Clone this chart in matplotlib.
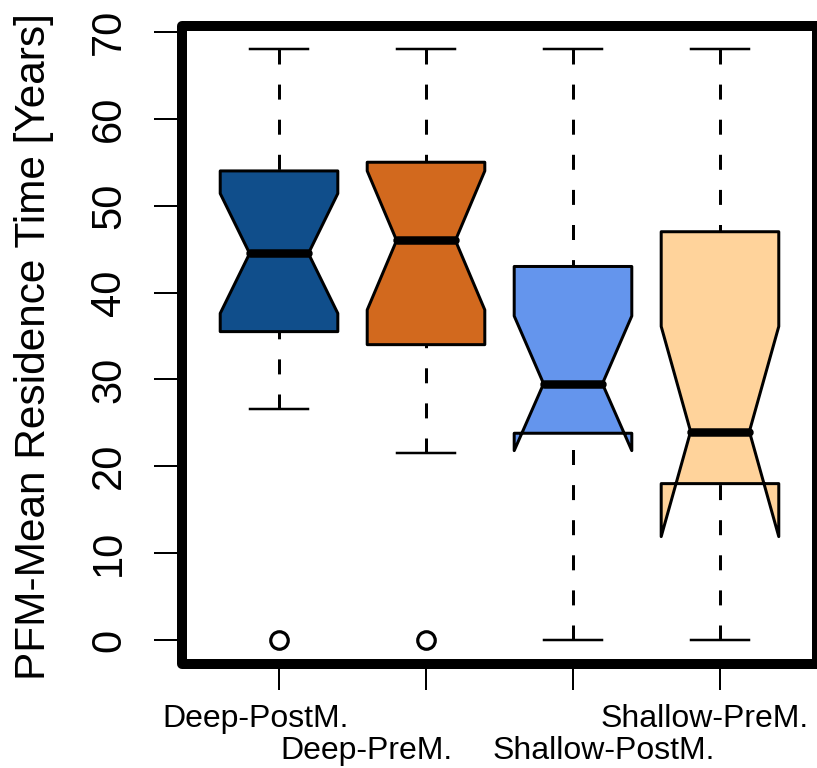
import matplotlib
matplotlib.use("Agg")
import matplotlib.pyplot as plt
import matplotlib.transforms as mtransforms
from matplotlib.patches import Rectangle

plt.rcParams['font.family'] = ['Liberation Sans', 'DejaVu Sans']

# ---- data -------------------------------------------------------------
groups = ["Deep-PostM.", "Deep-PreM.", "Shallow-PostM.", "Shallow-PreM."]
whisker_low = [26.6, 21.5, 0.0, 0.0]
q1 = [35.5, 34.0, 23.8, 18.0]
median = [44.5, 46.0, 29.5, 24.0]
q3 = [54.0, 55.0, 43.0, 47.0]
whisker_high = [68.0, 68.0, 68.0, 68.0]
notch_low = [37.6, 38.0, 21.8, 11.9]
notch_high = [51.4, 54.0, 37.3, 36.1]
outliers = [[0.0], [0.0], [], []]
colors = ["#104E8B", "#D2691E", "#6495ED", "#FFD39B"]
yticks = [0, 10, 20, 30, 40, 50, 60, 70]

# ---- layout -------------------------------------------------------------
W, H, DPI = 817, 768, 100
fig = plt.figure(figsize=(W / DPI, H / DPI), dpi=DPI)
ax = fig.add_axes([182 / W, 1 - 663.6 / H, 635 / W, (663.6 - 25.7) / H])
px = 72.0 / DPI  # points per pixel

stats = []
for i, g in enumerate(groups):
    stats.append(dict(label=g, whislo=whisker_low[i], q1=q1[i], med=median[i],
                      q3=q3[i], whishi=whisker_high[i], cilo=notch_low[i],
                      cihi=notch_high[i], fliers=outliers[i]))

positions = list(range(1, len(groups) + 1))
art = ax.bxp(stats, positions=positions, widths=0.8, shownotches=True,
             patch_artist=True, showfliers=True,
             boxprops=dict(linewidth=3 * px, edgecolor="black", joinstyle="round"),
             medianprops=dict(color="black", linewidth=8.5 * px,
                              solid_capstyle="round"),
             whiskerprops=dict(color="black", linewidth=3 * px,
                               linestyle=(0, (5, 6.7))),
             capprops=dict(color="black", linewidth=2.5 * px),
             flierprops=dict(marker="o", markersize=17.5 * px,
                             markerfacecolor="none", markeredgecolor="black",
                             markeredgewidth=3.2 * px))
for patch, c in zip(art["boxes"], colors):
    patch.set_facecolor(c)
# dash pattern starts at the whisker end, as in R
for wl in art["whiskers"]:
    x, y = wl.get_data()
    wl.set_data(list(x)[::-1], list(y)[::-1])
    wl.set_zorder(1.5)

ax.set_xlim(0.34, 4.66)
ax.set_ylim(-2.72, 70.72)

for s in ax.spines.values():
    s.set_visible(False)
frame = Rectangle((0, 0), 1, 1, transform=ax.transAxes, fill=False,
                  edgecolor="black", linewidth=10 * px, joinstyle="round",
                  clip_on=False, zorder=5)
ax.add_patch(frame)

# ticks
ax.set_yticks(yticks)
ax.set_yticklabels([])
ax.set_xticks(positions)
ax.set_xticklabels([])
ax.tick_params(axis="y", direction="out", length=28 * px, width=2 * px,
               color="black")
ax.tick_params(axis="x", direction="out", length=26.5 * px, width=2 * px,
               color="black")

# y tick labels, parallel to the axis
ytrans = mtransforms.blended_transform_factory(fig.transFigure, ax.transData)
for v in yticks:
    ax.text(120 / W, v, str(v), transform=ytrans, rotation=90,
            rotation_mode="anchor", ha="center", va="baseline", fontsize=30,
            clip_on=False)

# y axis title
fig.text(45 / W, 1 - 347 / H, "PFM-Mean Residence Time [Years]", rotation=90,
         rotation_mode="anchor", ha="center", va="baseline", fontsize=30.5)

# staggered group labels
label_x = [0.843, 1.592, 3.211, 3.898]
label_row = [0, 1, 1, 0]
row_base = [727, 759]
xtrans = mtransforms.blended_transform_factory(ax.transData, fig.transFigure)
for g, lx, r in zip(groups, label_x, label_row):
    ax.text(lx, 1 - row_base[r] / H, g, transform=xtrans, ha="center",
            va="baseline", fontsize=23, clip_on=False)

fig.savefig("out.png", dpi=DPI)
